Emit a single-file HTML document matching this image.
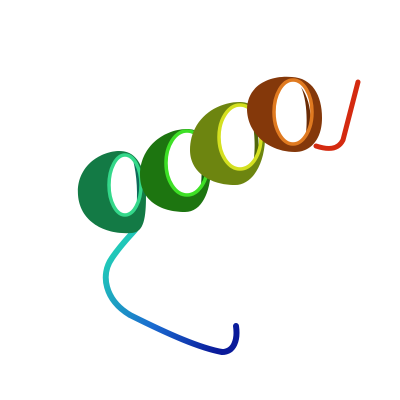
<!DOCTYPE html>
<html><head><meta charset="utf-8"><style>html,body{margin:0;padding:0;background:#fff;width:400px;height:400px;overflow:hidden}</style></head>
<body>
<svg width="400" height="400" viewBox="0 0 400 400" xmlns="http://www.w3.org/2000/svg">
<defs>
<linearGradient id="tailg" x1="236" y1="330" x2="130" y2="235" gradientUnits="userSpaceOnUse">
<stop offset="0" stop-color="#0a1a9a"/><stop offset="0.45" stop-color="#1a6ad0"/><stop offset="1" stop-color="#20c8b8"/></linearGradient>
</defs>
<path d="M236,326 C238,340 234,352 222,352 C200,348 170,335 130,315 C105,300 100,275 112,258 C120,246 128,238 135,230" fill="none" stroke="url(#tailg)" stroke-width="6" stroke-linecap="round"/>
<g>
<path fill-rule="evenodd" fill="#137a45" d="M78,195 C76,168 98,152 118,151 C138,150 146,170 146,195 C146,218 144,232 132,233 C105,235 80,222 78,195 Z M125,155 a16,30 0 1,0 0.1,0 Z"/>
<path fill="#0f6a5a" d="M133,160 C142,175 143,200 136,212 C138,195 137,175 133,160 Z"/>
<ellipse cx="125" cy="185" rx="16" ry="30" fill="none" stroke="#34d88a" stroke-width="3.5"/>
</g>
<g>
<path fill-rule="evenodd" fill="#1d7510" d="M140,175 C140,148 162,130 186,129 C206,128 212,150 211,170 C210,192 202,212 185,212 C160,212 140,200 140,175 Z M187,131 a21,32 0 1,0 0.1,0 Z"/>
<path fill="#155f10" d="M196,138 C208,155 208,182 200,192 C203,175 202,152 196,138 Z"/>
<ellipse cx="187" cy="163" rx="21" ry="32" fill="none" stroke="#3ee026" stroke-width="3.5"/>
</g>
<g>
<path fill-rule="evenodd" fill="#6d8510" d="M190,150 C190,120 215,102 240,102 C258,102 266,120 265,140 C264,165 252,185 235,185 C210,185 190,172 190,150 Z M240,105 a21,32 0 1,0 0.1,0 Z"/>
<path fill="#4f660a" d="M249,112 C261,128 261,155 253,165 C256,148 255,125 249,112 Z"/>
<ellipse cx="240" cy="137" rx="21" ry="32" fill="none" stroke="#d4e020" stroke-width="3.5"/>
</g>
<g>
<path fill-rule="evenodd" fill="#84380a" d="M247,110 C247,85 270,75 292,77 C312,78 322,95 322,118 C322,140 310,152 295,152 C270,152 248,135 247,110 Z M293,80 a19,32 0 1,0 0.1,0 Z"/>
<path fill="#6a2c06" d="M301,87 C313,103 313,130 305,140 C308,123 307,100 301,87 Z"/>
<ellipse cx="293" cy="112" rx="19" ry="32" fill="none" stroke="#e07a20" stroke-width="3.5"/>
</g>
<path d="M316,146 C328,150 338,150 343,140 L358,82" fill="none" stroke="#d42a10" stroke-width="5" stroke-linecap="round"/>
</svg>
</body></html>
